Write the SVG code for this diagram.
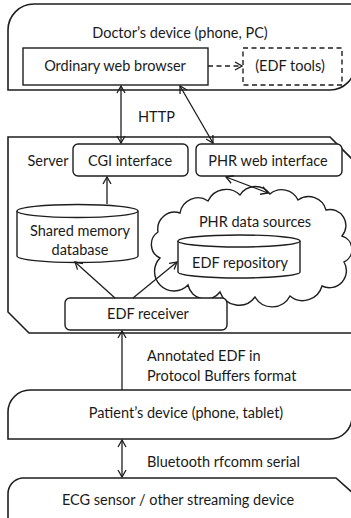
<svg xmlns="http://www.w3.org/2000/svg" width="351" height="518" viewBox="0 0 351 518">
  <style>
    .shape { fill: #ffffff; stroke: #1e1e1e; stroke-width: 1.4; }
    .outer { fill: none; stroke: #1e1e1e; stroke-width: 1.6; }
    .dash { fill: none; stroke: #1e1e1e; stroke-width: 1.4; stroke-dasharray: 5 3.5; }
    .link { fill: none; stroke: #1e1e1e; stroke-width: 1.3; }
    text { font-family: Lato, "Liberation Sans", sans-serif; font-size: 14.5px; fill: #1a1a1a; }
    .c { text-anchor: middle; }
  </style>
  <defs>
    <marker id="arrow" viewBox="0 0 10 10" refX="9" refY="5" markerWidth="10" markerHeight="10" markerUnits="userSpaceOnUse" orient="auto-start-reverse">
      <path d="M2,1 L9,5 L2,9" fill="none" stroke="#1e1e1e" stroke-width="1.3"/>
    </marker>
  </defs>

  <rect width="351" height="518" fill="#ffffff"/>

  <!-- Doctor's device -->
  <g id="doctor-device">
    <path class="outer" d="M356 4 L34 4 A26 26 0 0 0 8 30 L8 90 L330 90 A25 25 0 0 0 355 65"/>
    <text class="c" x="180" y="38">Doctor’s device (phone, PC)</text>
  </g>
  <g id="web-browser">
    <rect class="shape" x="23" y="48" width="185" height="37"/>
    <text class="c" x="115" y="71">Ordinary web browser</text>
  </g>
  <g id="edf-tools">
    <rect class="dash" x="243" y="48" width="99" height="37"/>
    <text class="c" x="290" y="71">(EDF tools)</text>
  </g>

  <!-- Server -->
  <g id="server">
    <path class="outer" d="M356 163 L330 137 L8 137 L8 312 L29 333 L356 333"/>
    <text class="c" x="48" y="166">Server</text>
  </g>
  <g id="cgi-interface">
    <rect class="shape" x="73" y="144" width="115" height="32" rx="5"/>
    <text class="c" x="130" y="166">CGI interface</text>
  </g>
  <g id="phr-web-interface">
    <rect class="shape" x="196" y="144" width="146" height="32" rx="5"/>
    <text class="c" x="268" y="166">PHR web interface</text>
  </g>
  <g id="shared-memory-db">
    <path class="shape" d="M17 211 L17 256 A60.5 6.5 0 0 0 138 256 L138 211"/>
    <ellipse class="shape" cx="77.5" cy="211" rx="60.5" ry="6.5"/>
    <text class="c" x="80" y="236">Shared memory</text>
    <text class="c" x="80" y="255">database</text>
  </g>
  <g id="phr-data-sources">
    <path class="shape" d="M160 258
      A15 15 0 0 1 158 232
      A17 17 0 0 1 180 213
      A18 18 0 0 1 208 201
      A20 20 0 0 1 240 195
      A18 18 0 0 1 270 194
      A18 18 0 0 1 298 200
      A18 18 0 0 1 326 210
      A16 16 0 0 1 342 236
      A14 14 0 0 1 344 262
      A17 17 0 0 1 322 286
      A20 20 0 0 1 290 296
      A20 20 0 0 1 255 297
      A20 20 0 0 1 220 292
      A18 18 0 0 1 188 285
      A16 16 0 0 1 160 258 Z"/>
    <text class="c" x="255" y="227">PHR data sources</text>
  </g>
  <g id="edf-repository">
    <path class="shape" d="M178 241 L178 272 A61 6 0 0 0 300 272 L300 241"/>
    <ellipse class="shape" cx="239" cy="241" rx="61" ry="6"/>
    <text class="c" x="240" y="268">EDF repository</text>
  </g>
  <g id="edf-receiver">
    <rect class="shape" x="65" y="298" width="162" height="32" rx="5"/>
    <text class="c" x="148" y="319">EDF receiver</text>
  </g>

  <!-- Patient's device -->
  <g id="patient-device">
    <path class="outer" d="M356 390 L30 390 A22 22 0 0 0 8 412 L8 439 L330 439 A22 22 0 0 0 352 417"/>
    <text class="c" x="186" y="418">Patient’s device (phone, tablet)</text>
  </g>

  <!-- ECG sensor -->
  <g id="ecg-sensor">
    <path class="outer" d="M8 520 L8 494 A16 16 0 0 1 22 478 L336 478 L354 494"/>
    <text class="c" x="178" y="505">ECG sensor / other streaming device</text>
  </g>

  <!-- Connectors -->
  <g id="connectors">
    <line class="link" x1="208" y1="66" x2="242" y2="66" stroke-dasharray="5 3.5" marker-end="url(#arrow)"/>
    <line class="link" x1="121" y1="86" x2="121" y2="143" marker-start="url(#arrow)" marker-end="url(#arrow)"/>
    <line class="link" x1="180" y1="86" x2="213" y2="143" marker-start="url(#arrow)" marker-end="url(#arrow)"/>
    <text x="138" y="122">HTTP</text>
    <line class="link" x1="107" y1="204" x2="107" y2="177" marker-end="url(#arrow)"/>
    <line class="link" x1="226" y1="177" x2="268" y2="193" marker-start="url(#arrow)" marker-end="url(#arrow)"/>
    <line class="link" x1="115" y1="298" x2="75" y2="262" marker-end="url(#arrow)"/>
    <line class="link" x1="133" y1="298" x2="177" y2="262" marker-end="url(#arrow)"/>
    <line class="link" x1="122" y1="390" x2="122" y2="331" marker-end="url(#arrow)"/>
    <text x="147" y="361">Annotated EDF in</text>
    <text x="147" y="381">Protocol Buffers format</text>
    <line class="link" x1="122" y1="440" x2="122" y2="477" marker-start="url(#arrow)" marker-end="url(#arrow)"/>
    <text x="147" y="467">Bluetooth rfcomm serial</text>
  </g>
</svg>
